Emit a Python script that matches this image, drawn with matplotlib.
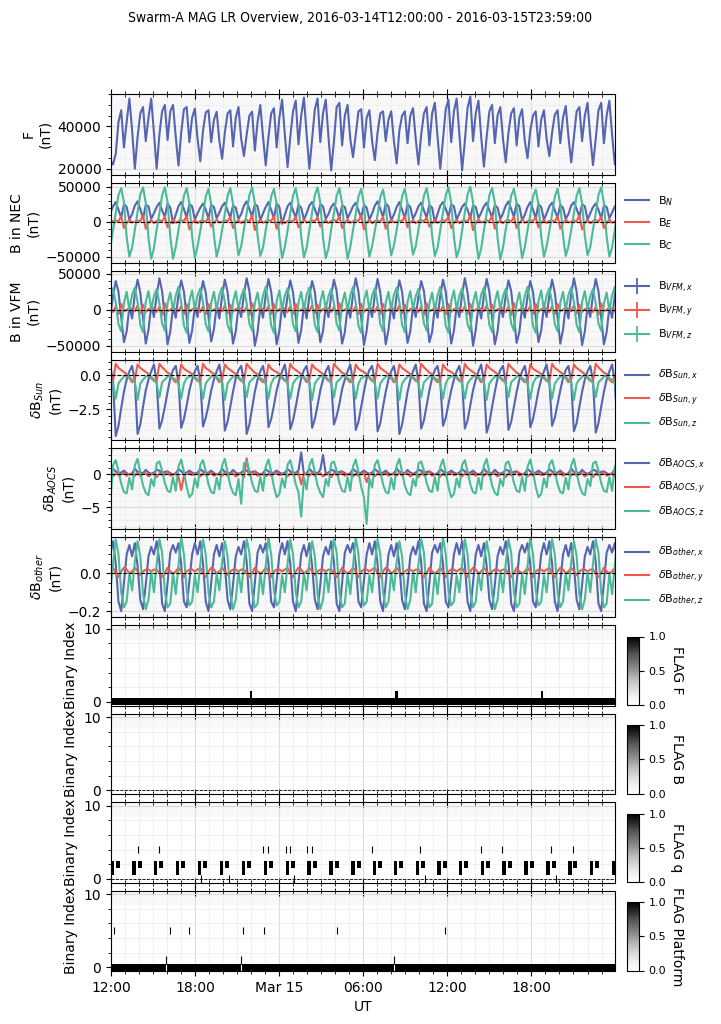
import numpy as np
import pandas as pd
import matplotlib
matplotlib.use("Agg")
import matplotlib.pyplot as plt
import matplotlib.dates as mdates
from matplotlib import font_manager as fm
from matplotlib.ticker import MultipleLocator, FuncFormatter
from matplotlib.lines import Line2D
from matplotlib.cm import ScalarMappable
from matplotlib.colors import Normalize

title = "Swarm-A MAG LR Overview, 2016-03-14T12:00:00 - 2016-03-15T23:59:00"
t_start = pd.Timestamp("2016-03-14 12:00:00")
t_end = pd.Timestamp("2016-03-15 23:59:00")

# sampling of the vector series: hours after 12:00, 8 samples per orbit
sample_t0_h = -0.05
sample_dt_h = 0.19459

F_rows = [
    [24000, 22000, 27000, 42000, 47500, 30000, 42000, 53000],
    [38000, 20000, 35000, 46000, 49000, 33000, 44000, 53000],
    [37000, 20000, 36000, 47000, 50000, 33500, 47000, 50000],
    [35000, 21500, 37000, 48000, 49000, 32500, 44000, 48300],
    [34000, 23500, 38000, 46500, 47500, 32500, 43000, 46800],
    [33000, 24700, 37000, 46000, 47500, 30500, 44000, 49000],
    [34000, 26000, 36000, 45000, 46800, 28500, 42000, 50000],
    [35000, 21600, 35000, 46000, 48500, 30000, 44000, 52500],
    [36000, 20800, 35000, 47000, 52000, 31500, 45000, 53500],
    [36000, 20000, 34000, 48000, 53000, 32500, 46000, 52500],
    [35000, 19200, 33000, 49000, 51000, 31000, 45000, 50000],
    [34000, 25500, 36000, 47000, 48000, 30000, 44000, 47500],
    [33000, 24000, 37000, 46000, 47000, 33000, 43000, 47000],
    [33000, 22500, 38000, 45000, 47000, 32000, 45000, 48500],
    [34000, 22000, 36000, 46000, 49000, 31000, 46000, 51000],
    [35000, 20000, 34000, 48000, 52500, 32500, 47000, 53000],
    [36000, 19200, 33000, 48500, 54000, 33000, 46000, 52000],
    [35000, 21000, 35000, 47000, 50000, 32000, 45000, 49000],
    [34000, 23000, 37000, 46000, 48500, 31000, 44000, 48000],
    [33000, 25000, 38000, 45000, 47000, 30500, 43000, 47500],
    [34000, 25900, 37000, 45500, 47500, 32000, 44000, 49500],
    [35000, 23000, 35000, 47000, 49000, 33000, 45000, 51000],
    [35000, 21700, 34000, 47500, 51000, 32000, 45000, 52000],
    [36000, 22000, 35000, 48000, 52000, 33000, 46000, 53000],
]

BN_rows = [
    [12000, 22000, 28000, 17000, 6000, 25000, 21000, 3000],
    [11000, 23000, 29000, 18000, 5000, 24000, 22000, 4000],
    [12000, 21000, 27000, 16000, 7000, 26000, 20000, -2000],
    [10000, 22000, 28000, 18000, 6000, 25000, 22000, 3000],
    [12000, 20000, 26000, 17000, 5000, 24000, 21000, 5000],
    [13000, 22000, 27000, 16000, 6000, 23000, 20000, 4000],
    [11000, 23000, 29000, 18000, 7000, 25000, 22000, 2000],
    [12000, 21000, 28000, 17000, 5000, 26000, 21000, -3000],
    [10000, 22000, 27000, 16000, 6000, 24000, 20000, 3000],
    [12000, 23000, 28000, 18000, 7000, 25000, 22000, 4000],
    [11000, 21000, 26000, 17000, 5000, 23000, 21000, 5000],
    [13000, 22000, 27000, 16000, 6000, 24000, 20000, 3000],
    [12000, 23000, 29000, 18000, 7000, 26000, 22000, 2000],
    [10000, 21000, 28000, 17000, 5000, 25000, 21000, 4000],
    [12000, 22000, 27000, 16000, 6000, 24000, 20000, -1000],
    [11000, 23000, 28000, 18000, 7000, 25000, 22000, 3000],
    [12000, 21000, 26000, 17000, 5000, 23000, 21000, 5000],
    [13000, 22000, 27000, 16000, 6000, 24000, 20000, 4000],
    [12000, 23000, 29000, 18000, 7000, 26000, 22000, 2000],
    [10000, 21000, 28000, 17000, 5000, 25000, 21000, 3000],
    [12000, 22000, 27000, 16000, 6000, 24000, 20000, 4000],
    [11000, 23000, 28000, 18000, 7000, 25000, 22000, 3000],
    [12000, 21000, 26000, 17000, 5000, 23000, 21000, 5000],
    [13000, 22000, 27000, 16000, 6000, 24000, 20000, 4000],
]

BE_rows = [
    [-2000, 1000, 2000, 0, 8000, -9000, -2000, 3000],
    [-1000, 0, 1500, 500, 9000, -10000, -1000, 2000],
    [-2000, 1000, 2500, 0, 7000, -8000, -2000, 3000],
    [-1500, 500, 2000, 1000, 8000, -11000, -1500, 2500],
    [-2000, 1000, 1500, 0, 6000, -7000, -2000, 3000],
    [-1000, 0, 2000, 500, 7000, -9000, -1000, 2000],
    [-2000, 1000, 2500, 0, 9000, -12000, -2000, 3000],
    [-1500, 500, 2000, 1000, 8000, -10000, -1500, 2500],
    [-2000, 1000, 1500, 0, 7000, -8000, -2000, 3000],
    [-1000, 0, 2000, 500, 6000, -7000, -1000, 2000],
    [-2000, 1000, 2500, 0, 8000, -9000, -2000, 3000],
    [-1500, 500, 2000, 1000, 9000, -11000, -1500, 2500],
    [-2000, 1000, 1500, 0, 7000, -10000, -2000, 3000],
    [-1000, 0, 2000, 500, 8000, -8000, -1000, 2000],
    [-2000, 1000, 2500, 0, 6000, -7000, -2000, 3000],
    [-1500, 500, 2000, 1000, 7000, -9000, -1500, 2500],
    [-2000, 1000, 1500, 0, 9000, -12000, -2000, 3000],
    [-1000, 0, 2000, 500, 8000, -10000, -1000, 2000],
    [-2000, 1000, 2500, 0, 7000, -9000, -2000, 3000],
    [-1500, 500, 2000, 1000, 6000, -8000, -1500, 2500],
    [-2000, 1000, 1500, 0, 8000, -10000, -2000, 3000],
    [-1000, 0, 2000, 500, 9000, -11000, -1000, 2000],
    [-2000, 1000, 2500, 0, 7000, -9000, -2000, 3000],
    [-1500, 500, 2000, 1000, 8000, -12000, -1500, 2500],
]

BC_rows = [
    [-37000, -12000, 12000, 38000, 48000, 28000, -22000, -50000],
    [-37000, -12000, 13000, 39000, 49000, 27000, -23000, -53000],
    [-38000, -11000, 12000, 38000, 49000, 28000, -22000, -53000],
    [-36000, -12000, 11000, 37000, 48000, 26000, -21000, -52000],
    [-35000, -13000, 10000, 36000, 47000, 25000, -20000, -50000],
    [-34000, -12000, 11000, 37000, 48000, 26000, -19000, -48000],
    [-35000, -11000, 12000, 38000, 49000, 27000, -20000, -49000],
    [-37000, -12000, 11000, 36000, 47000, 25000, -22000, -52000],
    [-36000, -13000, 12000, 37000, 48000, 26000, -22000, -51000],
    [-37000, -12000, 13000, 38000, 49000, 27000, -23000, -52000],
    [-38000, -11000, 12000, 37000, 48000, 26000, -23000, -53000],
    [-36000, -12000, 11000, 36000, 47000, 25000, -21000, -50000],
    [-35000, -13000, 10000, 35000, 46000, 24000, -20000, -48000],
    [-34000, -12000, 11000, 36000, 47000, 25000, -19000, -47000],
    [-35000, -11000, 12000, 37000, 48000, 26000, -20000, -49000],
    [-37000, -12000, 13000, 38000, 49000, 27000, -22000, -51000],
    [-38000, -13000, 13000, 39000, 50000, 28000, -23000, -53000],
    [-38000, -12000, 12000, 38000, 48000, 27000, -23000, -54000],
    [-37000, -11000, 11000, 37000, 47000, 26000, -22000, -52000],
    [-36000, -12000, 10000, 36000, 46000, 25000, -21000, -50000],
    [-35000, -13000, 11000, 36000, 47000, 25000, -20000, -49000],
    [-35000, -12000, 12000, 37000, 48000, 26000, -20000, -48000],
    [-36000, -11000, 12000, 38000, 49000, 27000, -21000, -50000],
    [-37000, -12000, 13000, 38000, 48000, 27000, -22000, -52000],
]

VX_rows = [
    [-10000, 20000, 40000, 25000, -10000, -45000, -30000, 5000],
    [-12000, 22000, 42000, 24000, -12000, -47000, -28000, 6000],
    [-10000, 20000, 44000, 26000, -10000, -48000, -30000, 4000],
    [-11000, 21000, 41000, 25000, -11000, -46000, -29000, 5000],
    [-10000, 19000, 40000, 24000, -10000, -44000, -27000, 6000],
    [-12000, 20000, 42000, 25000, -12000, -47000, -30000, 5000],
    [-10000, 22000, 44000, 26000, -10000, -50000, -31000, 4000],
    [-11000, 21000, 43000, 25000, -11000, -48000, -29000, 5000],
    [-10000, 20000, 41000, 24000, -10000, -46000, -28000, 6000],
    [-12000, 19000, 40000, 25000, -12000, -45000, -30000, 5000],
    [-10000, 20000, 42000, 26000, -10000, -47000, -31000, 4000],
    [-11000, 22000, 44000, 25000, -11000, -49000, -29000, 5000],
    [-10000, 21000, 43000, 24000, -10000, -48000, -28000, 6000],
    [-12000, 20000, 41000, 25000, -12000, -46000, -30000, 5000],
    [-10000, 19000, 40000, 26000, -10000, -45000, -31000, 4000],
    [-11000, 20000, 42000, 25000, -11000, -47000, -29000, 5000],
    [-10000, 22000, 44000, 24000, -10000, -50000, -28000, 6000],
    [-12000, 21000, 43000, 25000, -12000, -48000, -30000, 5000],
    [-10000, 20000, 41000, 26000, -10000, -46000, -31000, 4000],
    [-11000, 19000, 40000, 25000, -11000, -45000, -29000, 5000],
    [-10000, 20000, 42000, 24000, -10000, -47000, -28000, 6000],
    [-12000, 22000, 44000, 25000, -12000, -49000, -30000, 5000],
    [-10000, 21000, 43000, 26000, -10000, -48000, -31000, 4000],
    [-11000, 20000, 41000, 25000, -11000, -46000, -29000, 5000],
]

VY_rows = [
    [2000, -3000, 5000, -6000, 8000, -2000, 0, 3000],
    [1000, -2000, 6000, -5000, 7000, -3000, 1000, 2000],
    [2000, -3000, 4000, -7000, 9000, -2000, 0, 3000],
    [1000, -2000, 5000, -6000, 8000, -3000, 1000, 2000],
] * 6

VZ_rows = [
    [20000, 30000, 10000, -20000, -30000, 10000, 25000, 0],
    [21000, 31000, 11000, -21000, -31000, 11000, 26000, 1000],
    [19000, 29000, 9000, -19000, -29000, 9000, 24000, -1000],
    [20000, 32000, 10000, -22000, -32000, 12000, 27000, 0],
] * 6

SX_rows = [
    [0.7, -0.5, -4.45, -3.7, -2.4, -1.2, -0.3, 0.3],
    [0.7, -0.4, -4.30, -3.6, -2.3, -1.1, -0.3, 0.3],
    [0.8, -0.5, -3.90, -3.3, -2.3, -1.2, -0.2, 0.4],
    [0.7, -0.5, -3.85, -3.2, -2.2, -1.1, -0.3, 0.3],
    [0.7, -0.4, -3.75, -3.1, -2.2, -1.1, -0.3, 0.3],
    [0.8, -0.5, -4.05, -3.4, -2.3, -1.2, -0.2, 0.4],
    [0.7, -0.5, -4.30, -3.6, -2.4, -1.2, -0.3, 0.3],
    [0.7, -0.4, -3.80, -3.2, -2.2, -1.1, -0.3, 0.3],
    [0.8, -0.5, -3.95, -3.3, -2.3, -1.2, -0.2, 0.4],
    [0.7, -0.5, -3.85, -3.2, -2.2, -1.1, -0.3, 0.3],
    [0.7, -0.4, -3.60, -3.0, -2.1, -1.0, -0.3, 0.3],
    [0.8, -0.5, -4.00, -3.4, -2.3, -1.2, -0.2, 0.4],
    [0.7, -0.5, -4.10, -3.5, -2.3, -1.2, -0.3, 0.3],
    [0.7, -0.4, -4.30, -3.6, -2.4, -1.2, -0.3, 0.3],
    [0.8, -0.5, -3.90, -3.3, -2.2, -1.1, -0.2, 0.4],
    [0.7, -0.5, -3.70, -3.1, -2.1, -1.1, -0.3, 0.3],
    [0.7, -0.4, -3.90, -3.3, -2.2, -1.1, -0.3, 0.3],
    [0.8, -0.5, -4.20, -3.5, -2.3, -1.2, -0.2, 0.4],
    [0.7, -0.5, -4.00, -3.4, -2.3, -1.2, -0.3, 0.3],
    [0.7, -0.4, -3.80, -3.2, -2.2, -1.1, -0.3, 0.3],
    [0.8, -0.5, -3.70, -3.1, -2.1, -1.1, -0.2, 0.4],
    [0.7, -0.5, -4.10, -3.5, -2.3, -1.2, -0.3, 0.3],
    [0.7, -0.4, -4.20, -3.5, -2.3, -1.2, -0.3, 0.3],
    [0.8, -0.5, -3.90, -3.3, -2.2, -1.1, -0.2, 0.4],
]

SY_rows = [
    [-0.4, -0.4, 0.85, 0.55, 0.4, 0.25, 0.1, -0.2],
    [-0.5, -0.3, 0.8, 0.55, 0.4, 0.25, 0.1, -0.2],
    [-0.4, -0.4, 0.85, 0.6, 0.4, 0.2, 0.1, -0.3],
    [-0.5, -0.4, 0.8, 0.5, 0.35, 0.25, 0.1, -0.2],
] * 6

SZ_rows = [
    [-0.3, -0.6, -1.7, -0.6, -0.3, -0.1, 0.0, -0.1],
    [-0.3, -0.5, -1.8, -0.6, -0.3, -0.1, 0.0, -0.1],
    [-0.3, -0.6, -1.6, -0.5, -0.3, -0.1, 0.0, -0.2],
    [-0.3, -0.6, -1.7, -0.6, -0.2, -0.1, 0.0, -0.1],
] * 6

AX_rows = [
    [0.3, 0.8, 0.5, 0.2, 0.3, 0.6, 0.2, 0.0],
    [0.2, 0.9, 0.4, 0.3, 0.2, 0.7, 0.3, 0.1],
    [0.3, 0.7, 0.6, 0.2, 0.4, 0.5, 0.2, 0.0],
    [0.2, 0.8, 0.5, 0.1, 0.3, 0.6, 0.3, 0.1],
    [0.3, 0.8, 0.5, 0.2, 0.3, 0.6, 0.2, 0.0],
    [0.2, 0.9, 0.4, 0.3, 0.2, 0.7, 0.3, 0.1],
    [0.3, 0.7, 0.6, 0.2, 0.4, 0.5, 0.2, 0.0],
    [0.2, 0.8, 0.5, 0.1, 0.3, 0.6, 0.3, 0.1],
    [0.3, 0.8, 0.5, 0.2, 0.3, 0.6, 3.4, 0.0],
    [0.2, 0.9, 0.4, 0.3, 0.2, 0.7, 3.0, 0.1],
    [0.3, 0.7, 0.6, 0.2, 0.4, 0.5, 0.2, 0.0],
    [0.2, 0.8, 0.5, 0.1, 0.3, 0.6, 0.3, 0.1],
    [0.3, 0.8, 0.5, 0.2, 0.3, 0.6, 0.2, 0.0],
    [0.2, 0.9, 0.4, 0.3, 0.2, 0.7, 0.3, 0.1],
    [0.3, 0.7, 0.6, 0.2, 0.4, 0.5, 0.2, 0.0],
    [0.2, 0.8, 0.5, 0.1, 0.3, 0.6, 0.3, 0.1],
    [0.3, 0.8, 0.5, 0.2, 0.3, 0.6, 0.2, 0.0],
    [0.2, 0.9, 0.4, 0.3, 0.2, 0.7, 0.3, 0.1],
    [0.3, 0.7, 0.6, 0.2, 0.4, 0.5, 0.2, 0.0],
    [0.2, 0.8, 0.5, 0.1, 0.3, 0.6, 0.3, 0.1],
    [0.3, 0.8, 0.5, 0.2, 0.3, 0.6, 0.2, 0.0],
    [0.2, 0.9, 0.4, 0.3, 0.2, 0.7, 0.3, 0.1],
    [0.3, 0.7, 0.6, 0.2, 0.4, 0.5, 0.2, 0.0],
    [0.2, 0.8, 0.5, 0.1, 0.3, 0.6, 0.3, 0.1],
]

AY_rows = [
    [0.1, -0.3, 0.2, -0.1, 0.0, 0.3, -0.2, 0.1],
    [0.0, -0.2, 0.3, -0.2, 0.1, 0.2, -0.3, 0.0],
    [0.1, -0.4, 0.2, -0.1, 0.0, 0.4, -0.2, 0.1],
    [0.0, -0.3, -2.4, -0.2, 0.1, 0.3, -0.1, 0.0],
    [0.1, -0.3, 0.2, -0.1, 0.0, 0.3, -0.2, 0.1],
    [0.0, -0.2, 0.3, -0.2, 0.1, 0.2, -0.3, 0.0],
    [0.1, -0.4, 2.5, -0.1, 0.0, 0.4, -0.2, 0.1],
    [0.0, -0.3, 0.1, -0.2, 0.1, 0.3, -0.1, 0.0],
    [0.1, -0.3, 0.2, -0.1, 0.0, 0.3, -1.5, 0.1],
    [0.0, -0.2, 0.3, -0.2, 0.1, 0.2, -0.3, 0.0],
    [0.1, -0.4, 0.2, -0.1, 0.0, 0.4, -0.2, 0.1],
    [0.0, -0.3, 0.1, -0.2, 0.1, 0.3, -1.2, 0.0],
    [0.1, -0.3, 0.2, -0.1, 0.0, 0.3, -0.2, 0.1],
    [0.0, -0.2, 0.3, -0.2, 0.1, 0.2, -0.3, 0.0],
    [0.1, -0.4, 0.2, -0.1, 0.0, 0.4, -0.2, 0.1],
    [0.0, -0.3, 0.1, -0.2, 0.1, 0.3, -0.1, 0.0],
    [0.1, -0.3, 0.2, -0.1, 0.0, 0.3, -0.2, 0.1],
    [0.0, -0.2, 0.3, -0.2, 0.1, 0.2, -0.3, 0.0],
    [0.1, -0.4, 0.2, -0.1, 0.0, 0.4, -0.2, 0.1],
    [0.0, -0.3, 0.1, -0.2, 0.1, 0.3, -0.1, 0.0],
    [0.1, -0.3, 0.2, -0.1, 0.0, 0.3, -0.2, 0.1],
    [0.0, -0.2, 0.3, -0.2, 0.1, 0.2, -0.3, 0.0],
    [0.1, -0.4, 0.2, -0.1, 0.0, 0.4, -0.2, 0.1],
    [0.0, -0.3, 0.1, -0.2, 0.1, 0.3, -0.1, 0.0],
]

AZ_rows = [
    [-4.2, 1.4, 2.2, 0.5, -1.4, -2.7, -2.9, -0.5],
    [-2.3, 1.4, 2.4, 0.3, -1.7, -2.8, -3.2, -0.7],
    [-1.8, 1.7, 2.0, 0.6, -1.3, -2.5, -2.7, -0.4],
    [-2.5, 1.2, 2.3, 0.4, -1.9, -3.5, -3.0, -0.6],
    [-2.0, 1.5, 2.2, 0.5, -1.5, -2.7, -2.9, -0.5],
    [-2.3, 1.4, 2.4, 0.3, -1.7, -2.8, -3.2, -0.7],
    [-4.5, 1.7, 2.0, 0.6, -1.3, -2.5, -2.7, -0.4],
    [-2.5, 1.2, 2.3, 0.4, -1.9, -3.5, -3.0, -0.6],
    [-2.0, 1.5, 2.2, 0.5, -1.5, -2.7, -6.5, -0.5],
    [-2.3, 1.4, 2.4, 0.3, -1.7, -2.8, -3.5, -0.7],
    [-1.8, 1.7, 2.0, 0.6, -1.3, -2.5, -2.7, -0.4],
    [-2.5, 1.2, 2.3, 0.4, -1.9, -3.5, -7.6, -0.6],
    [-2.0, 1.5, 2.2, 0.5, -1.5, -2.7, -2.9, -0.5],
    [-2.3, 1.4, 2.4, 0.3, -1.7, -2.8, -3.2, -0.7],
    [-1.8, 1.7, 2.0, 0.6, -1.3, -2.5, -2.7, -0.4],
    [-2.5, 1.2, 2.3, 0.4, -1.9, -3.5, -3.0, -0.6],
    [-2.0, 1.5, 2.2, 0.5, -1.5, -2.7, -2.9, -0.5],
    [-2.3, 1.4, 2.4, 0.3, -1.7, -2.8, -3.2, -0.7],
    [-1.8, 1.7, 2.0, 0.6, -1.3, -2.5, -2.7, -0.4],
    [-2.5, 1.2, 2.3, 0.4, -1.9, -3.5, -3.0, -0.6],
    [-2.0, 1.5, 2.2, 0.5, -1.5, -2.7, -2.9, -0.5],
    [-2.3, 1.4, 2.4, 0.3, -1.7, -2.8, -3.2, -0.7],
    [-1.8, 1.7, 2.0, 0.6, -1.3, -2.5, -2.7, -0.4],
    [-2.5, 1.2, 2.3, 0.4, -1.9, -3.5, -3.0, -0.6],
]

OX_rows = [
    [0.10, 0.17, 0.05, -0.15, -0.20, -0.05, 0.10, 0.15],
    [0.09, 0.16, 0.04, -0.14, -0.19, -0.06, 0.09, 0.14],
    [0.10, 0.17, 0.06, -0.16, -0.20, -0.05, 0.11, 0.15],
    [0.11, 0.16, 0.05, -0.15, -0.18, -0.04, 0.10, 0.16],
] * 6

OY_rows = [
    [0.02, 0.03, 0.00, -0.02, 0.01, 0.03, 0.02, 0.00],
    [0.01, 0.03, 0.01, -0.01, 0.01, 0.02, 0.02, 0.01],
    [0.02, 0.02, 0.00, -0.02, 0.00, 0.03, 0.01, 0.00],
    [0.01, 0.03, 0.01, -0.02, 0.01, 0.02, 0.02, 0.01],
] * 6

OZ_rows = [
    [-0.10, 0.05, 0.18, 0.10, -0.10, -0.18, -0.15, 0.00],
    [-0.09, 0.06, 0.17, 0.09, -0.11, -0.19, -0.14, 0.01],
    [-0.10, 0.05, 0.18, 0.11, -0.10, -0.18, -0.16, 0.00],
    [-0.11, 0.04, 0.19, 0.10, -0.09, -0.17, -0.15, -0.01],
] * 6

# flag events (hours after 2016-03-14 12:00)
flagF_bit1 = [(9.89, 10.08), (20.28, 20.47), (30.65, 30.83)]
flagq_tall_starts = [-0.05, 1.52, 3.06, 4.63, 6.19, 7.76, 9.32, 10.89, 12.46, 14.02,
                     15.59, 17.15, 18.66, 20.19, 21.74, 23.29, 24.83, 26.38, 27.93,
                     29.48, 31.05, 32.61, 34.17, 35.75]
flagq_tall_len = 0.25
flagq_short_offset = 0.39
flagq_short_len = 0.28
flagq_bit4 = [1.90, 3.44, 10.87, 11.22, 12.46, 12.79, 14.00, 14.33, 18.59, 22.08,
              26.38, 27.92, 31.41, 32.98]
flagq_bit0 = [6.41, 8.42, 13.05, 22.40, 31.72]
flagP_gaps = [3.89, 9.27, 20.17]
flagP_bit5 = [0.235, 4.22, 5.57, 9.42, 10.91, 16.11, 23.82]

BLUE = "#5565b1"
RED = "#ef5a4d"
GREEN = "#4bba99"


def series(rows):
    return np.asarray(rows, dtype=float).ravel()


n_samp = len(F_rows) * 8
time = t_start + pd.to_timedelta(sample_t0_h + sample_dt_h * np.arange(n_samp), unit="h")

fig = plt.figure(figsize=(7.21, 10.24), dpi=100)
W, H = 721.0, 1024.0
left_px, right_px = 111.0, 615.3
tops = [94, 182.5, 271, 359.5, 448, 536.5, 625, 713.5, 802, 890.5]
ph = 80.5
axes = []
for tp in tops:
    ax = fig.add_axes([left_px / W, 1 - (tp + ph) / H, (right_px - left_px) / W, ph / H])
    axes.append(ax)

x0 = mdates.date2num(t_start)
x1 = mdates.date2num(t_end)


def hx(h):
    """hours after start -> matplotlib date number"""
    return x0 + np.asarray(h, dtype=float) / 24.0


def fmt_time(x, pos=None):
    d = mdates.num2date(x)
    if d.hour == 0 and d.minute == 0:
        return d.strftime("%b %d")
    return d.strftime("%H:%M")


for i, ax in enumerate(axes):
    ax.set_facecolor("#f8f8f8")
    ax.set_xlim(x0, x1)
    ax.xaxis.set_major_locator(mdates.HourLocator(byhour=[0, 6, 12, 18]))
    ax.xaxis.set_minor_locator(mdates.HourLocator())
    ax.xaxis.set_major_formatter(FuncFormatter(fmt_time))
    ax.grid(which="major", color="#dcdcdc", lw=0.8)
    ax.grid(which="minor", color="#eeeeee", lw=0.6)
    ax.tick_params(axis="x", which="major", direction="inout", length=7, top=True, bottom=True,
                   labelsize=10)
    ax.tick_params(axis="x", which="minor", direction="inout", length=4.5, top=True, bottom=True)
    ax.tick_params(axis="y", which="major", labelsize=10)
    if i < len(axes) - 1:
        ax.tick_params(axis="x", labelbottom=False)

lw = 1.5


def line_panel(ax, rows_list, colors, ylabel, ylim, major, minor, zero=True):
    for rows, c in zip(rows_list, colors):
        ax.plot(time, series(rows), color=c, lw=lw)
    if zero:
        ax.axhline(0, color="k", ls="--", lw=0.8)
    ax.set_ylim(*ylim)
    ax.yaxis.set_major_locator(MultipleLocator(major))
    ax.yaxis.set_minor_locator(MultipleLocator(minor))
    ax.set_ylabel(ylabel, fontsize=10)


line_panel(axes[0], [F_rows], [BLUE], "F\n(nT)", (17300, 55150), 20000, 5000, zero=False)
line_panel(axes[1], [BN_rows, BE_rows, BC_rows], [BLUE, RED, GREEN], "B in NEC\n(nT)",
           (-59000, 56000), 50000, 10000)
line_panel(axes[2], [VX_rows, VY_rows, VZ_rows], [BLUE, RED, GREEN], "B in VFM\n(nT)",
           (-58000, 54000), 50000, 10000)
line_panel(axes[3], [SX_rows, SY_rows, SZ_rows], [BLUE, RED, GREEN], "$\\delta$B$_{Sun}$\n(nT)",
           (-4.74, 1.17), 2.5, 0.5)
line_panel(axes[4], [AX_rows, AY_rows, AZ_rows], [BLUE, RED, GREEN], "$\\delta$B$_{AOCS}$\n(nT)",
           (-8.3, 4.07), 5, 1)
line_panel(axes[5], [OX_rows, OY_rows, OZ_rows], [BLUE, RED, GREEN], "$\\delta$B$_{other}$\n(nT)",
           (-0.231, 0.195), 0.2, 0.05)
axes[3].yaxis.set_major_formatter(FuncFormatter(lambda v, p: f"{v:.1f}".replace("-", "\u2212")))
axes[5].yaxis.set_major_formatter(FuncFormatter(lambda v, p: f"{v:.1f}".replace("-", "\u2212")))

leg_kw = dict(loc="center left", bbox_to_anchor=(1.0, 0.5), frameon=False, fontsize=8,
              labelspacing=0.75, handlelength=2.1)


def legend(ax, labels, marker=None):
    hs = []
    for c in [BLUE, RED, GREEN]:
        if marker:
            hs.append(Line2D([], [], color=c, lw=lw, marker=marker, markersize=11, mew=1.3))
        else:
            hs.append(Line2D([], [], color=c, lw=lw))
    ax.legend(hs, labels, **leg_kw)


legend(axes[1], ["B$_N$", "B$_E$", "B$_C$"])
legend(axes[2], ["B$_{VFM,x}$", "B$_{VFM,y}$", "B$_{VFM,z}$"], marker="|")
legend(axes[3], ["$\\delta$B$_{Sun,x}$", "$\\delta$B$_{Sun,y}$", "$\\delta$B$_{Sun,z}$"])
legend(axes[4], ["$\\delta$B$_{AOCS,x}$", "$\\delta$B$_{AOCS,y}$", "$\\delta$B$_{AOCS,z}$"])
legend(axes[5], ["$\\delta$B$_{other,x}$", "$\\delta$B$_{other,y}$", "$\\delta$B$_{other,z}$"])

# ---- flag panels ----
full_span = [(x0, x1 - x0 + 0.01)]
Z_BAND = 2.5


def bars(ax, spans_h, bit, color="black", z=Z_BAND):
    ax.broken_barh([(hx(a), (b - a) / 24.0) for a, b in spans_h], (bit - 0.5, 1.0),
                   facecolors=color, edgecolors="none", zorder=z)


def ticks(ax, times_h, bit, color="black", lw_px=1.1, z=Z_BAND + 0.2):
    ax.vlines(hx(times_h), bit - 0.5, bit + 0.5, colors=color, lw=lw_px * 72 / 100, zorder=z)


flag_axes = axes[6:]
for ax in flag_axes:
    ax.axhspan(-0.5, 8.5, color="white", zorder=0.1)

# FLAG F
axF = flag_axes[0]
axF.broken_barh(full_span, (-0.5, 1.0), facecolors="black", edgecolors="none", zorder=Z_BAND)
bars(axF, flagF_bit1, 1)

# FLAG q
axQ = flag_axes[2]
bars(axQ, [(s, s + flagq_tall_len) for s in flagq_tall_starts], 1)
bars(axQ, [(s, s + flagq_tall_len) for s in flagq_tall_starts], 2)
bars(axQ, [(s + flagq_short_offset, s + flagq_short_offset + flagq_short_len)
           for s in flagq_tall_starts], 2)
ticks(axQ, flagq_bit4, 4)
ticks(axQ, flagq_bit0, 0)

# FLAG Platform
axP = flag_axes[3]
axP.broken_barh(full_span, (-0.5, 1.0), facecolors="black", edgecolors="none", zorder=Z_BAND)
ticks(axP, flagP_gaps, 0, color="white")
ticks(axP, flagP_gaps, 1)
ticks(axP, flagP_bit5, 5)

flag_names = ["FLAG F", "FLAG B", "FLAG q", "FLAG Platform"]
zero_z = [Z_BAND - 0.1, 2.0, 2.0, Z_BAND - 0.1]
for ax, name, tp, zz in zip(flag_axes, flag_names, tops[6:], zero_z):
    ax.axhline(0, color="k", ls="--", lw=0.6, zorder=zz)
    ax.set_xlim(x0, x1)
    ax.set_ylim(-0.5, 10.5)
    ax.yaxis.set_major_locator(MultipleLocator(10))
    ax.yaxis.set_minor_locator(MultipleLocator(2))
    ax.set_ylabel("Binary Index", fontsize=10)
    cax = fig.add_axes([627 / W, 1 - (tp + ph - 0.5) / H, 12 / W, 68.5 / H])
    sm = ScalarMappable(norm=Normalize(0, 1), cmap="Greys")
    cb = fig.colorbar(sm, cax=cax, ticks=[0.0, 0.5, 1.0])
    cb.ax.tick_params(labelsize=8)
    cb.set_label(name, rotation=270, fontsize=10, labelpad=13)

axes[-1].set_xlabel("UT", fontsize=10)

# title font: a narrow face if one is installed
title_fp = None
for f in fm.fontManager.ttflist:
    if "Liberation Sans Narrow" in f.name and f.weight in (400, "normal", "regular") \
            and f.style == "normal":
        title_fp = fm.FontProperties(fname=f.fname, size=10)
        break
if title_fp is None:
    for f in fm.fontManager.ttflist:
        if ("Condensed" in f.name or "Narrow" in f.name or
                str(f.stretch) in ("condensed", "semi-condensed", "75", "87")) \
                and f.weight in (400, "normal", "regular") and f.style == "normal":
            title_fp = fm.FontProperties(fname=f.fname, size=10)
            break
if title_fp is None:
    title_fp = fm.FontProperties(family="DejaVu Sans", size=7.4)

fig.text(0.5, 1 - 10.5 / H, title, ha="center", va="top", fontproperties=title_fp)

fig.savefig("out.png", dpi=100)
